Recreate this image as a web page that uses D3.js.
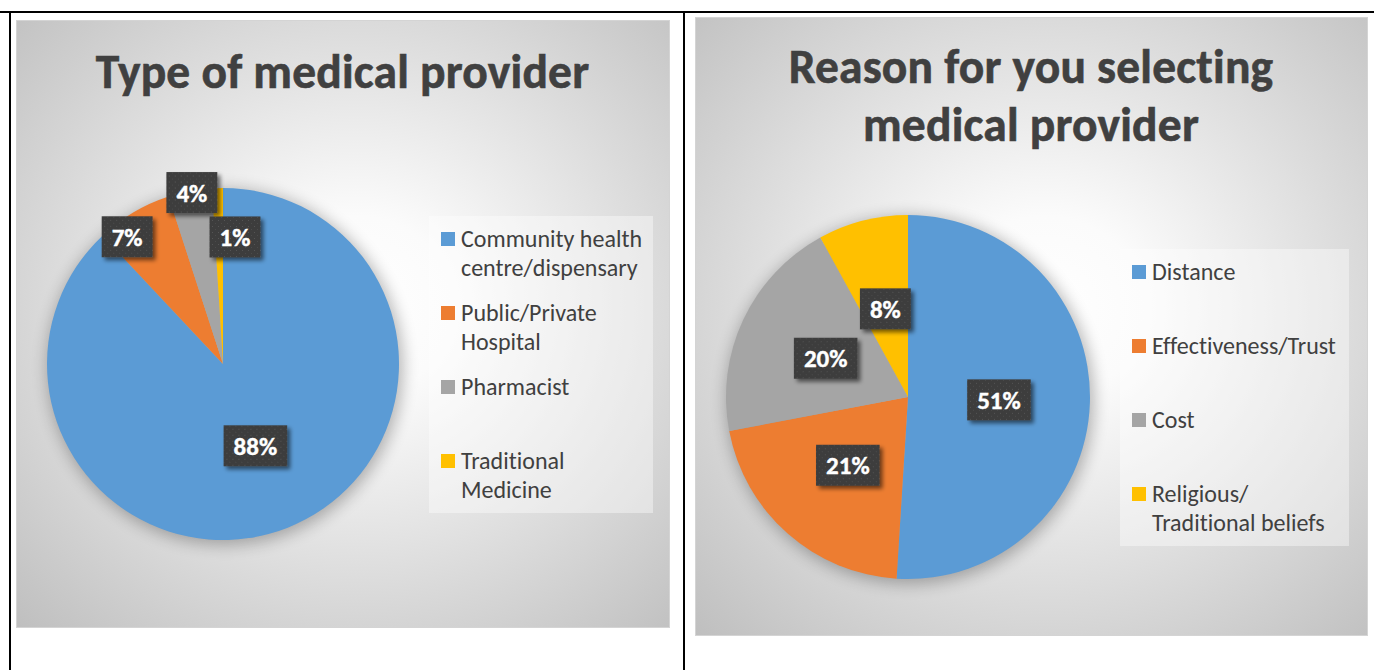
<!DOCTYPE html>
<html>
<head>
<meta charset="utf-8">
<script src="https://cdn.jsdelivr.net/npm/d3@7"></script>
<style>
  html, body { margin: 0; padding: 0; background: #ffffff; }
  svg { display: block; }
  svg text { font-variant-ligatures: none; font-feature-settings: "liga" 0, "clig" 0, "dlig" 0, "calt" 0; }
</style>
</head>
<body>
<svg id="chart" width="1374" height="670"></svg>
<script>
// ---- data ----
const providerTitle = ["Type of medical provider"];
const providerLegend = [
  ["Community health", "centre/dispensary"],
  ["Public/Private", "Hospital"],
  ["Pharmacist"],
  ["Traditional", "Medicine"]
];
const providerShares = [88, 7, 4, 1];

const reasonTitle = ["Reason for you selecting", "medical provider"];
const reasonLegend = [
  ["Distance"],
  ["Effectiveness/Trust"],
  ["Cost"],
  ["Religious/", "Traditional beliefs"]
];
const reasonShares = [51, 21, 20, 8];

const sliceColors = ["#5B9BD5", "#ED7D31", "#A5A5A5", "#FFC000"];

// ---- drawing ----
const FONT = "Carlito, Calibri, Lato, 'Open Sans', sans-serif";
const svg = d3.select("#chart");
const defs = svg.append("defs");

// panel background: soft radial gradient
const grad = defs.append("radialGradient")
  .attr("id", "panelGrad").attr("cx", 0.52).attr("cy", 0.47).attr("r", 0.74);
grad.append("stop").attr("offset", 0).attr("stop-color", "#ffffff");
grad.append("stop").attr("offset", 0.2).attr("stop-color", "#fbfbfb");
grad.append("stop").attr("offset", 1).attr("stop-color", "#bfbfbf");

// soft halo under the pie
const halo = defs.append("filter").attr("id", "halo")
  .attr("x", "-30%").attr("y", "-30%").attr("width", "160%").attr("height", "160%");
halo.append("feGaussianBlur").attr("stdDeviation", 8);

// drop shadow for data label boxes
const boxShadow = defs.append("filter").attr("id", "boxShadow")
  .attr("x", "-30%").attr("y", "-30%").attr("width", "170%").attr("height", "170%");
boxShadow.append("feGaussianBlur").attr("in", "SourceAlpha").attr("stdDeviation", 2.2).attr("result", "b");
boxShadow.append("feOffset").attr("in", "b").attr("dx", 2.5).attr("dy", 2.5).attr("result", "o");
boxShadow.append("feComponentTransfer").attr("in", "o").attr("result", "s")
  .append("feFuncA").attr("type", "linear").attr("slope", 0.55);
const bm = boxShadow.append("feMerge");
bm.append("feMergeNode").attr("in", "s");
bm.append("feMergeNode").attr("in", "SourceGraphic");

// dotted texture for label boxes
const pat = defs.append("pattern").attr("id", "dots")
  .attr("patternUnits", "userSpaceOnUse").attr("width", 6).attr("height", 6);
pat.append("rect").attr("width", 6).attr("height", 6).attr("fill", "#3d3d3d");
pat.append("rect").attr("x", 1).attr("y", 1).attr("width", 1).attr("height", 1).attr("fill", "#565656");
pat.append("rect").attr("x", 4).attr("y", 4).attr("width", 1).attr("height", 1).attr("fill", "#4c4c4c");

// table rules around the two cells
svg.append("rect").attr("x", 0).attr("y", 11).attr("width", 1374).attr("height", 2).attr("fill", "#000");
svg.append("rect").attr("x", 9).attr("y", 11).attr("width", 2).attr("height", 659).attr("fill", "#000");
svg.append("rect").attr("x", 683).attr("y", 11).attr("width", 2).attr("height", 659).attr("fill", "#000");

function drawPie(cfg) {
  const g = svg.append("g");
  // chart area
  g.append("rect")
    .attr("x", cfg.panel[0] + 0.5).attr("y", cfg.panel[1] + 0.5)
    .attr("width", cfg.panel[2] - cfg.panel[0]).attr("height", cfg.panel[3] - cfg.panel[1])
    .attr("fill", "url(#panelGrad)").attr("stroke", "#d4d4d4").attr("stroke-width", 1);

  // title (a hair of letter spacing keeps the glyphs unjoined)
  const px = (cfg.panel[0] + cfg.panel[2]) / 2;
  g.selectAll("text.title").data(cfg.title).join("text")
    .attr("class", "title")
    .attr("x", px)
    .attr("y", (d, i) => cfg.titleBase + i * cfg.titleLead)
    .attr("text-anchor", "middle")
    .attr("font-family", FONT).attr("font-weight", "bold")
    .attr("font-size", cfg.titleSize).attr("fill", "#404040")
    .attr("letter-spacing", 0.2)
    .attr("stroke", "#404040").attr("stroke-width", 0.6)
    .text(d => d);

  const pie = d3.pie().sort(null).value(d => d).startAngle(0).endAngle(2 * Math.PI);
  const arcs = pie(cfg.values);
  const arc = d3.arc().innerRadius(0).outerRadius(cfg.r);

  const pg = g.append("g").attr("transform", `translate(${cfg.cx},${cfg.cy})`);
  pg.append("circle").attr("cx", 2).attr("cy", 3).attr("r", cfg.r + 2)
    .attr("fill", "#000").attr("opacity", 0.28).attr("filter", "url(#halo)");
  pg.selectAll("path.slice").data(arcs).join("path")
    .attr("class", "slice")
    .attr("d", arc)
    .attr("fill", (d, i) => sliceColors[i]);

  // data labels
  const lab = pg.selectAll("g.lab").data(arcs).join("g").attr("class", "lab")
    .attr("transform", (d, i) => {
      const [rf, shiftDeg] = cfg.labelPlace[i];
      const a = (d.startAngle + d.endAngle) / 2 + shiftDeg * Math.PI / 180;
      return `translate(${rf * cfg.r * Math.sin(a)},${-rf * cfg.r * Math.cos(a)})`;
    });
  lab.each(function(d) {
    const s = d3.select(this);
    const t = s.append("text")
      .attr("text-anchor", "middle").attr("y", 9)
      .attr("font-family", FONT).attr("font-weight", "bold")
      .attr("font-size", cfg.labelSize).attr("fill", "#ffffff")
      .attr("stroke", "#ffffff").attr("stroke-width", 0.4)
      .text(d.data + "%");
    const w = t.node().getComputedTextLength() + 20;
    s.insert("rect", "text")
      .attr("x", -w / 2).attr("y", -20.5).attr("width", w).attr("height", 41)
      .attr("fill", "url(#dots)").attr("filter", "url(#boxShadow)");
  });

  // legend
  const lg = g.append("g");
  lg.append("rect")
    .attr("x", cfg.legend[0]).attr("y", cfg.legend[1])
    .attr("width", cfg.legend[2]).attr("height", 297)
    .attr("fill", "#ffffff").attr("opacity", 0.4);
  const items = lg.selectAll("g.item").data(cfg.legendLines).join("g").attr("class", "item")
    .attr("transform", (d, i) => `translate(${cfg.legend[0] + 12},${cfg.legend[1] + 23 + i * 74})`);
  items.append("rect").attr("x", 0).attr("y", -7).attr("width", 14).attr("height", 14)
    .attr("fill", (d, i) => sliceColors[i]);
  items.each(function(lines) {
    d3.select(this).selectAll("text").data(lines).join("text")
      .attr("x", 20).attr("y", (d, j) => 8 + j * 29)
      .attr("font-family", FONT).attr("font-size", cfg.legendSize).attr("fill", "#404040")
      .text(d => d);
  });
}

drawPie({
  panel: [16, 20, 669, 627],
  title: providerTitle, titleBase: 88, titleLead: 58, titleSize: 47.5,
  values: providerShares, cx: 223, cy: 364, r: 176,
  labelPlace: [[0.5, 0], [0.905, -6.4], [0.99, 0.5], [0.725, 7.2]],
  labelSize: 25,
  legend: [429, 216, 224], legendLines: providerLegend, legendSize: 24
});

drawPie({
  panel: [695, 17, 1367, 635],
  title: reasonTitle, titleBase: 83, titleLead: 58, titleSize: 47.5,
  values: reasonShares, cx: 908, cy: 397, r: 182,
  labelPlace: [[0.5, 0], [0.5, 0], [0.5, 0], [0.5, 0]],
  labelSize: 25,
  legend: [1120, 249, 229], legendLines: reasonLegend, legendSize: 24
});
</script>
</body>
</html>
